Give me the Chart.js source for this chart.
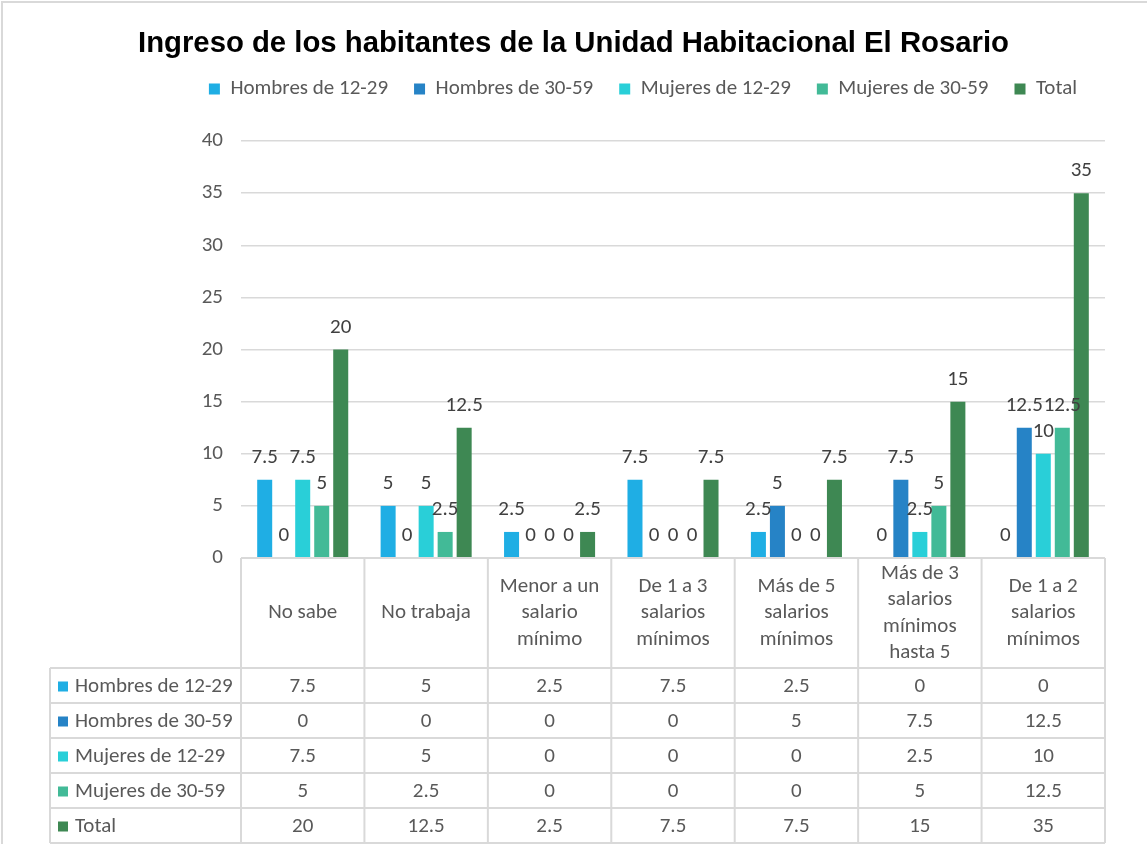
<!DOCTYPE html>
<html>
<head>
<meta charset="utf-8">
<script src="https://cdn.jsdelivr.net/npm/chart.js@4.4.1/dist/chart.umd.min.js"></script>
<style>
  html, body { margin: 0; padding: 0; background: #fff; }
  #wrap { width: 1147px; height: 844px; position: relative; }
</style>
</head>
<body>
<div id="wrap"><canvas id="chart" width="1147" height="844"></canvas></div>
<script>
var chartTitle = "Ingreso de los habitantes de la Unidad Habitacional El Rosario";
var categories = [
    ["No sabe"],
    ["No trabaja"],
    ["Menor a un", "salario", "mínimo"],
    ["De 1 a 3", "salarios", "mínimos"],
    ["Más de 5", "salarios", "mínimos"],
    ["Más de 3", "salarios", "mínimos", "hasta 5"],
    ["De 1 a 2", "salarios", "mínimos"]
];
var seriesNames = ["Hombres de 12-29", "Hombres de 30-59", "Mujeres de 12-29", "Mujeres de 30-59", "Total"];
var hombres1229 = [7.5, 5, 2.5, 7.5, 2.5, 0, 0];
var hombres3059 = [0, 0, 0, 0, 5, 7.5, 12.5];
var mujeres1229 = [7.5, 5, 0, 0, 0, 2.5, 10];
var mujeres3059 = [5, 2.5, 0, 0, 0, 5, 12.5];
var totales = [20, 12.5, 2.5, 7.5, 7.5, 15, 35];
var seriesColors = ["#1FAEE4", "#2683C6", "#29CFD8", "#42BA97", "#3E8853"];

var FONT = "Carlito, Lato, 'Liberation Sans', sans-serif";
var FS = 21;
var GRID = "#D9D9D9";

var allSeries = [hombres1229, hombres3059, mujeres1229, mujeres3059, totales];

// extra room between legend and plot
var legendGap = {
    id: 'legendGap',
    afterInit: function (chart) {
        var fit = chart.legend.fit;
        chart.legend.fit = function () {
            fit.call(this);
            this.height += 31.5;
        };
    }
};

// values above bars, zeros included
var valueLabels = {
    id: 'valueLabels',
    afterDatasetsDraw: function (chart) {
        var ctx = chart.ctx;
        ctx.save();
        ctx.font = FS + "px " + FONT;
        ctx.fillStyle = "#404040";
        ctx.textAlign = "center";
        ctx.textBaseline = "alphabetic";
        chart.data.datasets.forEach(function (ds, i) {
            chart.getDatasetMeta(i).data.forEach(function (bar, j) {
                ctx.fillText(String(ds.data[j]), bar.x, bar.y - 17);
            });
        });
        ctx.restore();
    }
};

// title, outer frame and data table under the axis
var tableAndTitle = {
    id: 'tableAndTitle',
    beforeDraw: function (chart) {
        var ctx = chart.ctx;
        ctx.save();
        ctx.fillStyle = "#fff";
        ctx.fillRect(0, 0, chart.width, chart.height);
        ctx.strokeStyle = GRID;
        ctx.lineWidth = 2;
        ctx.strokeRect(2, 2, chart.width + 10, chart.height + 10);
        ctx.fillStyle = "#000";
        ctx.font = "bold 29.3px 'Liberation Sans', Arial, sans-serif";
        ctx.textAlign = "center";
        ctx.textBaseline = "middle";
        ctx.fillText(chartTitle, chart.width / 2, 44);
        ctx.restore();
    },
    afterDraw: function (chart) {
        var ctx = chart.ctx, area = chart.chartArea, xs = chart.scales.x;
        var n = categories.length;
        var cw = (area.right - area.left) / n;
        var top = area.bottom, catBottom = top + 110, rowH = 35;
        var legendLeft = 50;
        var bottom = catBottom + rowH * allSeries.length;
        ctx.save();
        ctx.strokeStyle = GRID;
        ctx.lineWidth = 2;
        ctx.beginPath();
        ctx.moveTo(area.left, top); ctx.lineTo(area.right, top);
        for (var r = 0; r <= allSeries.length; r++) {
            var yy = catBottom + r * rowH;
            ctx.moveTo(legendLeft, yy); ctx.lineTo(area.right, yy);
        }
        for (var k = 0; k <= n; k++) {
            var xx = area.left + k * cw;
            ctx.moveTo(xx, top); ctx.lineTo(xx, bottom);
        }
        ctx.moveTo(legendLeft, catBottom); ctx.lineTo(legendLeft, bottom);
        ctx.stroke();

        ctx.fillStyle = "#595959";
        ctx.font = FS + "px " + FONT;
        ctx.textAlign = "center";
        ctx.textBaseline = "middle";
        var lh = 26.5;
        categories.forEach(function (lines, i) {
            var cx = xs.getPixelForValue(i);
            var cy = (top + catBottom) / 2;
            var y0 = cy - (lines.length - 1) * lh / 2;
            lines.forEach(function (t, l) { ctx.fillText(t, cx, y0 + l * lh); });
        });
        allSeries.forEach(function (vals, s) {
            var cy = catBottom + s * rowH + rowH / 2 + 1;
            ctx.fillStyle = seriesColors[s];
            ctx.fillRect(legendLeft + 8, cy - 5, 10, 10);
            ctx.fillStyle = "#595959";
            ctx.textAlign = "left";
            ctx.fillText(seriesNames[s], legendLeft + 25, cy);
            ctx.textAlign = "center";
            vals.forEach(function (v, i) {
                ctx.fillText(String(v), xs.getPixelForValue(i), cy);
            });
        });
        ctx.restore();
    }
};

new Chart(document.getElementById('chart'), {
    type: 'bar',
    data: {
        labels: categories.map(function (c) { return c.join(' '); }),
        datasets: allSeries.map(function (vals, i) {
            return {
                label: seriesNames[i],
                data: vals,
                backgroundColor: seriesColors[i],
                barPercentage: 0.79,
                categoryPercentage: 0.77
            };
        })
    },
    options: {
        responsive: false,
        animation: false,
        layout: { padding: { top: 52.5, left: 181, right: 42, bottom: 286 } },
        plugins: {
            title: { display: false },
            tooltip: { enabled: false },
            legend: {
                position: 'top',
                labels: {
                    boxWidth: 11, boxHeight: 11,
                    color: "#595959",
                    font: { family: FONT, size: FS },
                    padding: 26
                }
            }
        },
        scales: {
            x: { display: false },
            y: {
                min: 0, max: 40,
                afterFit: function (s) { s.width = 60; },
                border: { display: false },
                grid: { color: GRID, lineWidth: 1.5, drawTicks: false },
                ticks: {
                    stepSize: 5, padding: 18,
                    color: "#595959",
                    font: { family: FONT, size: FS }
                }
            }
        }
    },
    plugins: [legendGap, tableAndTitle, valueLabels]
});
</script>
</body>
</html>
